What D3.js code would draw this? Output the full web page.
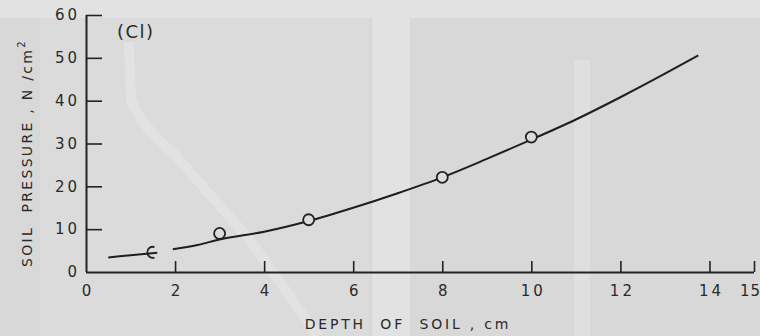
<!DOCTYPE html>
<html><head><meta charset="utf-8">
<script src="https://cdn.jsdelivr.net/npm/d3@7"></script>
<style>
html,body{margin:0;padding:0;background:#dadada;}
svg{display:block;}
text{font-family:"DejaVu Sans",sans-serif;fill:#2a2a2a;white-space:pre;}
</style></head>
<body><svg id="c" width="760" height="336"></svg>
<script>
// data
const curveX = [0.5, 1.0, 1.6];
const curveY = [3.4, 3.9, 4.5];
const curve2X = [1.95, 2.5, 3, 4, 5, 6, 7, 8, 9, 10, 11, 12, 13, 13.75];
const curve2Y = [5.3, 6.3, 7.6, 9.4, 11.9, 15.0, 18.4, 22.1, 26.4, 30.9, 35.6, 40.8, 46.3, 50.6];
const pointX = [1.5, 3, 5, 8, 10];
const pointY = [4.6, 9.0, 12.2, 22.1, 31.5];
const xTicks = [0, 2, 4, 6, 8, 10, 12, 14, 15];
const yTicks = [0, 10, 20, 30, 40, 50, 60];
const xTitle = "DEPTH  OF  SOIL , cm";
const panelLabel = "(Cl)";

const svg = d3.select("#c");
// scanned-paper background
svg.append("rect").attr("width",760).attr("height",336).attr("fill","#d8d8d8");
svg.append("rect").attr("x",0).attr("y",0).attr("width",760).attr("height",18).attr("fill","#e2e2e2");
svg.append("rect").attr("x",40).attr("y",18).attr("width",330).attr("height",318).attr("fill","#dbdbdb");
svg.append("rect").attr("x",372).attr("y",18).attr("width",38).attr("height",318).attr("fill","#e2e2e2");
svg.append("rect").attr("x",574).attr("y",60).attr("width",16).attr("height",276).attr("fill","#dfdfdf");
svg.append("path").attr("d","M129,42 L131,100 Q140,125 175,155 L250,240 L318,336")
  .attr("fill","none").attr("stroke","#e2e2e2").attr("stroke-width",10);

const x = d3.scaleLinear().domain([0,15]).range([86,754]);
const y = d3.scaleLinear().domain([0,60]).range([272,15]);

const axisColor = "#222";
// x axis (ticks point up)
const gx = svg.append("g").attr("transform",`translate(0,${y(0)})`)
  .call(d3.axisBottom(x).tickValues(xTicks).tickSize(-11).tickSizeOuter(0).tickPadding(13).tickFormat(d3.format("d")));
gx.select(".domain").attr("d",`M${x(0)},0.5H${x(15)}`).attr("stroke",axisColor).attr("stroke-width",2);
gx.selectAll(".tick line").attr("stroke",axisColor).attr("stroke-width",1.6);
gx.selectAll(".tick line").filter(d=>d===0).remove();
gx.selectAll(".tick text").attr("font-size",15).attr("letter-spacing",d=>d===15?1:3).attr("fill","#2a2a2a")
  .attr("font-family","DejaVu Sans").attr("dy","0.75em").attr("dx",d=>d===15?-4:1.5);

// y axis (ticks point right)
const gy = svg.append("g").attr("transform",`translate(${x(0)},0)`)
  .call(d3.axisLeft(y).tickValues(yTicks).tickSize(-16).tickSizeOuter(0).tickPadding(6).tickFormat(d3.format("d")));
gy.select(".domain").attr("d",`M0.5,${y(0)}V${y(60)}`).attr("stroke",axisColor).attr("stroke-width",2);
gy.selectAll(".tick line").attr("stroke",axisColor).attr("stroke-width",1.6);
gy.selectAll(".tick line").filter(d=>d===0).remove();
gy.selectAll(".tick text").attr("font-size",15).attr("letter-spacing",3).attr("fill","#2a2a2a").attr("font-family","DejaVu Sans");

// titles
svg.append("text").attr("x",408).attr("y",329).attr("text-anchor","middle")
  .attr("font-size",14).attr("letter-spacing",2.8).text(xTitle);
const yt = svg.append("text").attr("transform","translate(32,153) rotate(-90)").attr("text-anchor","middle")
  .attr("font-size",14).attr("letter-spacing",2.3);
yt.append("tspan").text("SOIL  PRESSURE , N /cm");
yt.append("tspan").attr("dy",-7).attr("font-size",10).text("2");
svg.append("text").attr("x",117).attr("y",38).attr("font-size",18).attr("letter-spacing",1.5).text(panelLabel);

// curve
const line = d3.line().x(d=>x(d[0])).y(d=>y(d[1])).curve(d3.curveMonotoneX);
svg.append("path").datum(d3.zip(curveX,curveY)).attr("d",line)
  .attr("fill","none").attr("stroke","#1e1e1e").attr("stroke-width",2);
svg.append("path").datum(d3.zip(curve2X,curve2Y)).attr("d",line)
  .attr("fill","none").attr("stroke","#1e1e1e").attr("stroke-width",2);

// points
const pts = d3.zip(pointX,pointY);
pts.forEach((p,i)=>{
  if(i===0){
    const pth = d3.path();
    pth.arc(x(p[0]),y(p[1]),5.5,-Math.PI*0.4,-Math.PI*1.6,true);
    svg.append("path").attr("d",pth.toString()).attr("fill","none").attr("stroke","#222").attr("stroke-width",1.8);
  } else {
    svg.append("circle").attr("cx",x(p[0])).attr("cy",y(p[1])).attr("r",5.5)
      .attr("fill","#dcdcdc").attr("stroke","#222").attr("stroke-width",1.8);
  }
});
</script></body></html>
